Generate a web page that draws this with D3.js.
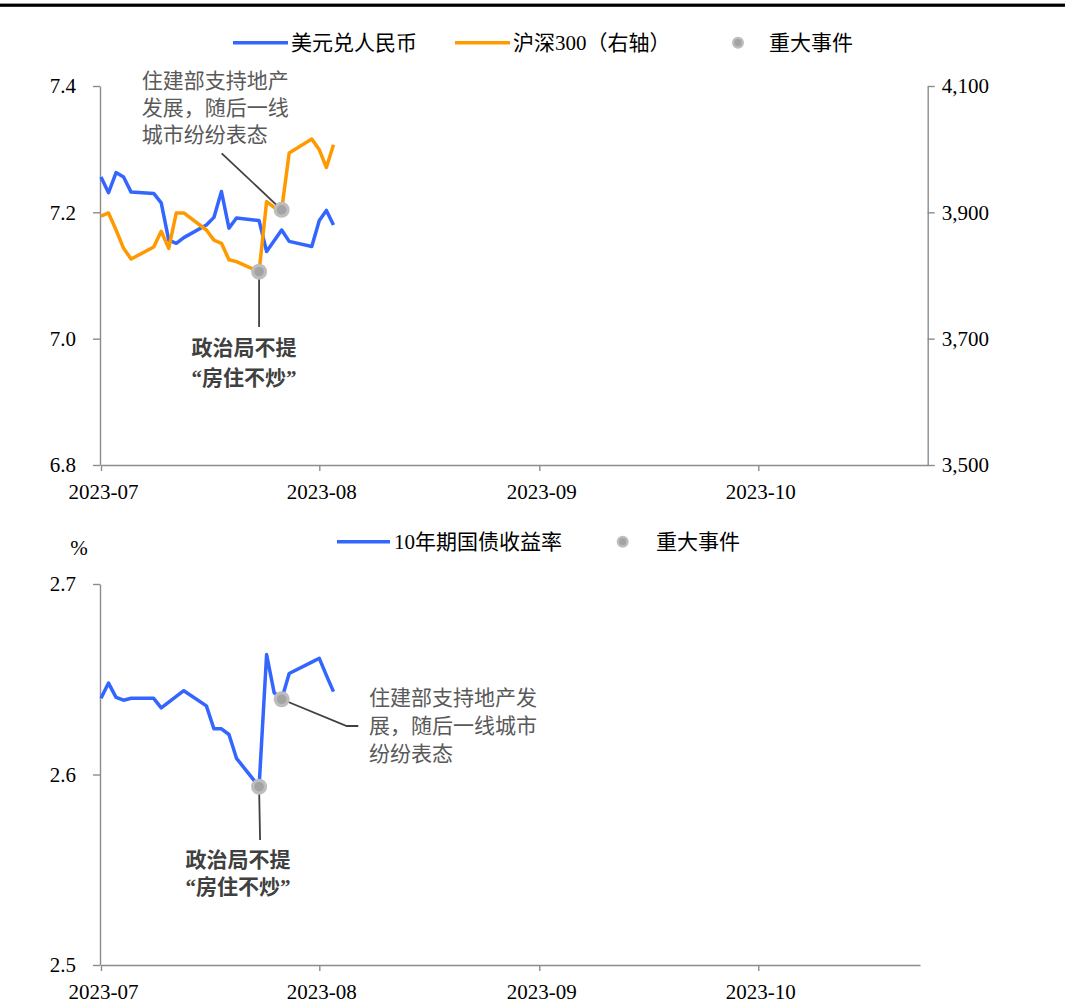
<!DOCTYPE html>
<html>
<head>
<meta charset="utf-8">
<script src="https://cdn.jsdelivr.net/npm/d3@7"></script>
<style>
  html, body { margin: 0; padding: 0; background: #fff; }
  svg text { font-family: "Liberation Serif", "Noto Sans CJK SC", serif; }
</style>
</head>
<body>
<svg id="chart" width="1077" height="1005"></svg>
<script>
// ---------------- data ----------------
const dates = [
  "2023-07-03","2023-07-04","2023-07-05","2023-07-06","2023-07-07",
  "2023-07-10","2023-07-11","2023-07-12","2023-07-13","2023-07-14",
  "2023-07-17","2023-07-18","2023-07-19","2023-07-20","2023-07-21",
  "2023-07-24","2023-07-25","2023-07-26","2023-07-27","2023-07-28",
  "2023-07-31","2023-08-01","2023-08-02","2023-08-03"
];
const usdcny = [
  7.256, 7.231, 7.263, 7.256, 7.232,
  7.230, 7.215, 7.156, 7.151, 7.160,
  7.180, 7.192, 7.233, 7.175, 7.191,
  7.187, 7.138, 7.155, 7.172, 7.154,
  7.146, 7.187, 7.203, 7.180
];
const csi300 = [
  3894, 3899, 3872, 3843, 3826,
  3845, 3870, 3843, 3899, 3899,
  3872, 3856, 3851, 3825, 3822,
  3806, 3917, 3908, 3904, 3994,
  4016, 3999, 3971, 4007
];
const bond10y = [
  2.640, 2.648, 2.6405, 2.639, 2.640,
  2.640, 2.635, 2.638, 2.641, 2.644,
  2.636, 2.624, 2.624, 2.621, 2.6085,
  2.5936, 2.663, 2.643, 2.6395, 2.653,
  2.659, 2.661, 2.652, 2.6435
];
const eventDates = ["2023-07-24", "2023-07-27"];
const eventLabel1 = ["政治局不提", "“房住不炒”"];
const eventLabelTop2 = ["住建部支持地产", "发展，随后一线", "城市纷纷表态"];
const eventLabelBottom2 = ["住建部支持地产发", "展，随后一线城市", "纷纷表态"];

const xDomainDates = ["2023-07-03", "2023-08-01", "2023-09-01", "2023-10-01", "2023-10-24"];
const xTickDates = ["2023-07-03", "2023-08-01", "2023-09-01", "2023-10-01"];
const leftTicks = [6.8, 7.0, 7.2, 7.4];
const rightTicks = [3500, 3700, 3900, 4100];
const bondTicks = [2.5, 2.6, 2.7];

const legendTop = ["美元兑人民币", "沪深300（右轴）", "重大事件"];
const legendBottom = ["10年期国债收益率", "重大事件"];

// ---------------- setup ----------------
const parse = d3.timeParse("%Y-%m-%d");
const D = dates.map(parse);
const BLUE = "#3366ff", ORANGE = "#ff9900", AXIS = "#8c8c8c";
const FS = 21;

const svg = d3.select("#chart");

// top black rule
svg.append("rect").attr("x", 0).attr("y", 3.6).attr("width", 1065).attr("height", 3.2).attr("fill", "#000");

const x = d3.scaleTime()
  .domain(xDomainDates.map(parse))
  .range([101, 319.3, 539.3, 758.3, 927.7]);
const x2 = x.copy().range([101, 319.3, 539.3, 758.3, 920]);

const yL = d3.scaleLinear().domain([6.8, 7.4]).range([465, 86]);
const yR = d3.scaleLinear().domain([3500, 4100]).range([465, 86]);
const yB = d3.scaleLinear().domain([2.5, 2.7]).range([965, 584]);

function styleAxis(g) {
  g.selectAll("path.domain").attr("stroke", AXIS).attr("stroke-width", 1.4);
  g.selectAll(".tick line").attr("stroke", AXIS).attr("stroke-width", 1.4);
  g.selectAll(".tick text").attr("font-size", FS).attr("fill", "#000")
    .attr("font-family", "Liberation Serif, serif");
}

function xAxis(g, scale, yPos) {
  g.attr("transform", `translate(0,${yPos})`)
    .call(d3.axisBottom(scale).tickValues(xTickDates.map(parse))
      .tickFormat(d3.timeFormat("%Y-%m")).tickSize(6).tickSizeOuter(0).tickPadding(13));
  styleAxis(g);
  g.selectAll(".tick text").attr("dx", 2);
}

function eventDot(g, cx, cy, r) {
  g.append("circle").attr("cx", cx).attr("cy", cy).attr("r", r).attr("fill", "#bdbdbd");
  g.append("circle").attr("cx", cx).attr("cy", cy).attr("r", r * 0.6).attr("fill", "#a3a3a3");
}

// ---------------- top chart ----------------
const gTop = svg.append("g");
gTop.append("g").call(g => xAxis(g, x, 465));
gTop.append("g").attr("transform", "translate(100,0)")
  .call(d3.axisLeft(yL).tickValues(leftTicks).tickFormat(d3.format(".1f")).tickSize(7).tickSizeOuter(0).tickPadding(17))
  .call(styleAxis);
gTop.append("g").attr("transform", "translate(927.7,0)")
  .call(d3.axisRight(yR).tickValues(rightTicks).tickFormat(d3.format(",")).tickSize(7).tickSizeOuter(0).tickPadding(7))
  .call(styleAxis);

const lineL = d3.line().x((d, i) => x(D[i])).y(d => yL(d));
const lineR = d3.line().x((d, i) => x(D[i])).y(d => yR(d));
gTop.append("path").datum(usdcny).attr("d", lineL).attr("fill", "none")
  .attr("stroke", BLUE).attr("stroke-width", 3.5).attr("stroke-linejoin", "round");
gTop.append("path").datum(csi300).attr("d", lineR).attr("fill", "none")
  .attr("stroke", ORANGE).attr("stroke-width", 3.5).attr("stroke-linejoin", "round");

const topEvents = eventDates.map(s => {
  const i = dates.indexOf(s);
  return { x: x(D[i]), y: yR(csi300[i]) };
});
gTop.append("line").attr("x1", topEvents[0].x).attr("y1", topEvents[0].y)
  .attr("x2", topEvents[0].x).attr("y2", 327)
  .attr("stroke", "#404040").attr("stroke-width", 1.8);
gTop.append("line").attr("x1", topEvents[1].x).attr("y1", topEvents[1].y)
  .attr("x2", 221.7).attr("y2", 153.3)
  .attr("stroke", "#404040").attr("stroke-width", 1.8);
topEvents.forEach(e => eventDot(gTop, e.x, e.y, 8));

gTop.selectAll("text.ev1").data(eventLabel1).join("text").attr("class", "ev1")
  .attr("x", 244).attr("y", (d, i) => 348 + i * 30)
  .attr("text-anchor", "middle").attr("dominant-baseline", "central")
  .attr("font-size", FS).attr("font-weight", "bold").attr("fill", "#404040").text(d => d);
gTop.selectAll("text.ev2").data(eventLabelTop2).join("text").attr("class", "ev2")
  .attr("x", 141.7).attr("y", (d, i) => 80.7 + i * 27.3)
  .attr("dominant-baseline", "central")
  .attr("font-size", FS).attr("fill", "#595959").text(d => d);

// top legend
const lgT = svg.append("g");
lgT.append("line").attr("x1", 233).attr("x2", 288).attr("y1", 42.7).attr("y2", 42.7)
  .attr("stroke", BLUE).attr("stroke-width", 3.5);
lgT.append("text").attr("x", 291).attr("y", 42.7).attr("dominant-baseline", "central")
  .attr("font-size", FS).attr("fill", "#000").text(legendTop[0]);
lgT.append("line").attr("x1", 455).attr("x2", 510).attr("y1", 42.7).attr("y2", 42.7)
  .attr("stroke", ORANGE).attr("stroke-width", 3.5);
lgT.append("text").attr("x", 513).attr("y", 42.7).attr("dominant-baseline", "central")
  .attr("font-size", FS).attr("fill", "#000").text(legendTop[1]);
eventDot(lgT, 738, 42.7, 6);
lgT.append("text").attr("x", 769).attr("y", 42.7).attr("dominant-baseline", "central")
  .attr("font-size", FS).attr("fill", "#000").text(legendTop[2]);

// ---------------- bottom chart ----------------
const gBot = svg.append("g");
gBot.append("g").call(g => xAxis(g, x2, 965));
gBot.append("g").attr("transform", "translate(100,0)")
  .call(d3.axisLeft(yB).tickValues(bondTicks).tickFormat(d3.format(".1f")).tickSize(7).tickSizeOuter(0).tickPadding(17))
  .call(styleAxis);
gBot.append("text").attr("x", 79).attr("y", 548).attr("text-anchor", "middle")
  .attr("dominant-baseline", "central").attr("font-size", FS).attr("fill", "#000").text("%");

const lineB = d3.line().x((d, i) => x2(D[i])).y(d => yB(d));
gBot.append("path").datum(bond10y).attr("d", lineB).attr("fill", "none")
  .attr("stroke", BLUE).attr("stroke-width", 3.5).attr("stroke-linejoin", "round");

const botEvents = eventDates.map(s => {
  const i = dates.indexOf(s);
  return { x: x2(D[i]), y: yB(bond10y[i]) };
});
gBot.append("line").attr("x1", botEvents[0].x).attr("y1", botEvents[0].y)
  .attr("x2", botEvents[0].x + 1).attr("y2", 840)
  .attr("stroke", "#404040").attr("stroke-width", 1.8);
gBot.append("polyline")
  .attr("points", `${botEvents[1].x},${botEvents[1].y} 346.7,726 358.3,726`)
  .attr("fill", "none").attr("stroke", "#404040").attr("stroke-width", 1.8);
botEvents.forEach(e => eventDot(gBot, e.x, e.y, 8));

gBot.selectAll("text.ev1").data(eventLabel1).join("text").attr("class", "ev1")
  .attr("x", 238).attr("y", (d, i) => 860 + i * 27)
  .attr("text-anchor", "middle").attr("dominant-baseline", "central")
  .attr("font-size", FS).attr("font-weight", "bold").attr("fill", "#404040").text(d => d);
gBot.selectAll("text.ev2").data(eventLabelBottom2).join("text").attr("class", "ev2")
  .attr("x", 369).attr("y", (d, i) => 698.3 + i * 28)
  .attr("dominant-baseline", "central")
  .attr("font-size", FS).attr("fill", "#595959").text(d => d);

// bottom legend
const lgB = svg.append("g");
lgB.append("line").attr("x1", 337).attr("x2", 390).attr("y1", 541.7).attr("y2", 541.7)
  .attr("stroke", BLUE).attr("stroke-width", 3.5);
lgB.append("text").attr("x", 394).attr("y", 541.7).attr("dominant-baseline", "central")
  .attr("font-size", FS).attr("fill", "#000").text(legendBottom[0]);
eventDot(lgB, 622.7, 541.7, 6);
lgB.append("text").attr("x", 656).attr("y", 541.7).attr("dominant-baseline", "central")
  .attr("font-size", FS).attr("fill", "#000").text(legendBottom[1]);
</script>
</body>
</html>
